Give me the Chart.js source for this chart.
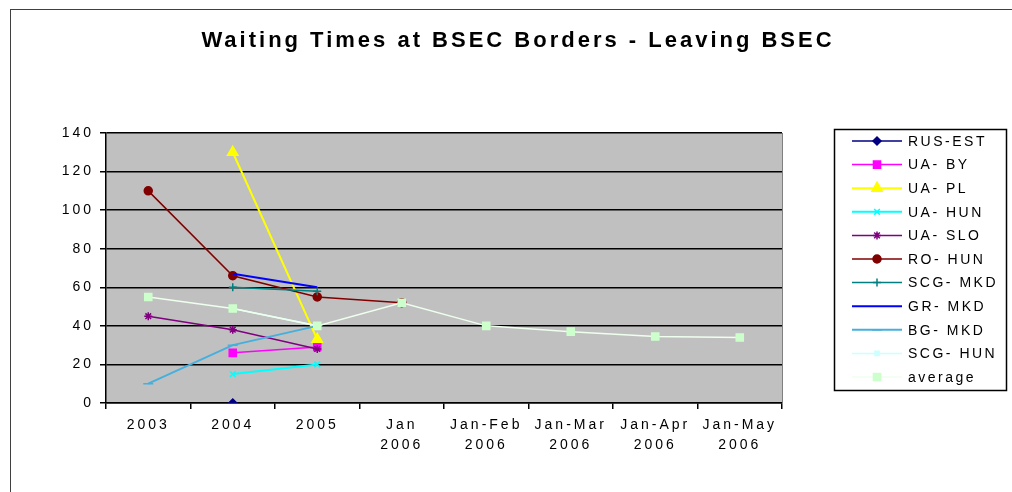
<!DOCTYPE html>
<html>
<head>
<meta charset="utf-8">
<script src="https://cdn.jsdelivr.net/npm/chart.js@4.4.1/dist/chart.umd.min.js"></script>
<style>
  html, body { margin: 0; padding: 0; background: #fff; }
</style>
</head>
<body>
<canvas id="myChart" width="1012" height="492"></canvas>
<script>
const categories = [["2003"], ["2004"], ["2005"], ["Jan", "2006"], ["Jan-Feb", "2006"],
  ["Jan-Mar", "2006"], ["Jan-Apr", "2006"], ["Jan-May", "2006"]];
const yTicks = [0, 20, 40, 60, 80, 100, 120, 140];

const rusEst = [null, 0, null, null, null, null, null, null];
const uaBy = [null, 26, 29, null, null, null, null, null];
const uaPl = [null, 130, 33, null, null, null, null, null];
const uaHun = [null, 15, 20, null, null, null, null, null];
const uaSlo = [45, 38, 28, null, null, null, null, null];
const roHun = [110, 66, 55, 52, null, null, null, null];
const scgMkd = [null, 60, 58, null, null, null, null, null];
const grMkd = [null, 67, 60, null, null, null, null, null];
const bgMkd = [10, 30, 40, null, null, null, null, null];
const scgHun = [null, 49, 40, null, null, null, null, null];
const average = [55, 49, 40, 52, 40, 37, 34.5, 34];

const FONT = '"Liberation Sans", Arial, sans-serif';

const series = [
  { label: "RUS-EST", data: rusEst, color: "#000080", marker: "rectRot", r: 4, w: 1.5 },
  { label: "UA- BY", data: uaBy, color: "#FF00FF", marker: "rect", r: 5, w: 1.5 },
  { label: "UA- PL", data: uaPl, color: "#FFFF00", marker: "triangle", r: 6, w: 2 },
  { label: "UA- HUN", data: uaHun, color: "#00FFFF", marker: "crossRot", r: 4, w: 2 },
  { label: "UA- SLO", data: uaSlo, color: "#800080", marker: "star", r: 4, w: 1.5 },
  { label: "RO- HUN", data: roHun, color: "#800000", marker: "circle", r: 4, w: 1.5 },
  { label: "SCG- MKD", data: scgMkd, color: "#008080", marker: "cross", r: 4, w: 1.5 },
  { label: "GR- MKD", data: grMkd, color: "#0000FF", marker: "circle", r: 0, w: 2 },
  { label: "BG- MKD", data: bgMkd, color: "#45B0DD", marker: "line", r: 5, w: 2 },
  { label: "SCG- HUN", data: scgHun, color: "#CCFFFF", marker: "rect", r: 3, w: 1.5 },
  { label: "average", data: average, color: "#EEFFEE", fill: "#CCFFCC", marker: "rect", r: 5, w: 1.5 }
];

const datasets = series.map((s, i) => ({
  label: s.label,
  data: s.data,
  borderColor: s.color,
  borderWidth: s.w,
  backgroundColor: s.fill || s.color,
  pointStyle: s.marker,
  pointRadius: s.r,
  pointBackgroundColor: s.fill || s.color,
  pointBorderColor: s.fill || s.color,
  pointBorderWidth: 1.5,
  tension: 0,
  order: series.length - i
}));

const decor = {
  id: "decor",
  beforeDraw(chart) {
    const { ctx, chartArea } = chart;
    ctx.save();
    ctx.fillStyle = "#fff";
    ctx.fillRect(0, 0, chart.width, chart.height);
    ctx.fillStyle = "#C0C0C0";
    ctx.fillRect(chartArea.left, chartArea.top, chartArea.right - chartArea.left, chartArea.bottom - chartArea.top);
    ctx.restore();
    ctx.letterSpacing = "3px";
  },
  afterDraw(chart) {
    const { ctx, chartArea } = chart;
    ctx.letterSpacing = "0px";
    ctx.save();
    // outer frame
    ctx.strokeStyle = "#404040";
    ctx.lineWidth = 1;
    ctx.strokeRect(10.5, 9.5, 1200, 600);
    // plot right edge
    ctx.strokeStyle = "#808080";
    ctx.beginPath();
    ctx.moveTo(chartArea.right + 0.5, chartArea.top);
    ctx.lineTo(chartArea.right + 0.5, chartArea.bottom);
    ctx.stroke();
    // title
    ctx.fillStyle = "#000";
    ctx.font = "bold 22px " + FONT;
    ctx.letterSpacing = "3px";
    ctx.textAlign = "center";
    ctx.textBaseline = "middle";
    ctx.fillText("Waiting Times at BSEC Borders - Leaving BSEC", 518, 41);
    // legend
    ctx.strokeStyle = "#000";
    ctx.lineWidth = 1.5;
    ctx.strokeRect(834.5, 129.5, 172, 261);
    ctx.font = "14px " + FONT;
    ctx.letterSpacing = "2.5px";
    ctx.textAlign = "left";
    series.forEach((s, i) => {
      const y = 141 + i * 23.6;
      ctx.strokeStyle = s.color;
      ctx.lineWidth = s.w;
      ctx.beginPath();
      ctx.moveTo(852, y);
      ctx.lineTo(902, y);
      ctx.stroke();
      if (s.r > 0) {
        ctx.fillStyle = s.fill || s.color;
        ctx.strokeStyle = s.fill || s.color;
        ctx.lineWidth = 1.5;
        Chart.helpers.drawPoint(ctx, { pointStyle: s.marker, radius: s.r, rotation: 0, borderWidth: 1.5 }, 877, y);
      }
      ctx.fillStyle = "#000";
      ctx.fillText(s.label, 908, y + 1);
    });
    ctx.restore();
  }
};

const ctx = document.getElementById("myChart").getContext("2d");

const lineChart = new Chart(ctx, {
  type: "line",
  data: { labels: categories, datasets: datasets },
  plugins: [decor],
  options: {
    responsive: false,
    animation: false,
    devicePixelRatio: 1,
    layout: { padding: { left: 56, right: 230, top: 133, bottom: 0 } },
    plugins: {
      legend: { display: false },
      title: { display: false },
      tooltip: { enabled: false }
    },
    scales: {
      x: {
        offset: true,
        grid: { offset: true, drawOnChartArea: false, color: "#000", lineWidth: 1.5, tickLength: 6 },
        border: { color: "#000", width: 1.5 },
        ticks: { color: "#000", font: { family: FONT, size: 14, lineHeight: 1.45 }, maxRotation: 0, autoSkip: false, padding: 6 },
        afterFit(scale) { scale.height = 89; }
      },
      y: {
        min: 0,
        max: 140,
        afterBuildTicks(scale) { scale.ticks = yTicks.map(v => ({ value: v })); },
        grid: { color: "#000", lineWidth: 1.5, tickLength: 6 },
        border: { color: "#000", width: 1.5 },
        ticks: { color: "#000", font: { family: FONT, size: 14 }, padding: 6 },
        afterFit(scale) { scale.width = 50; }
      }
    }
  }
});
</script>
</body>
</html>
